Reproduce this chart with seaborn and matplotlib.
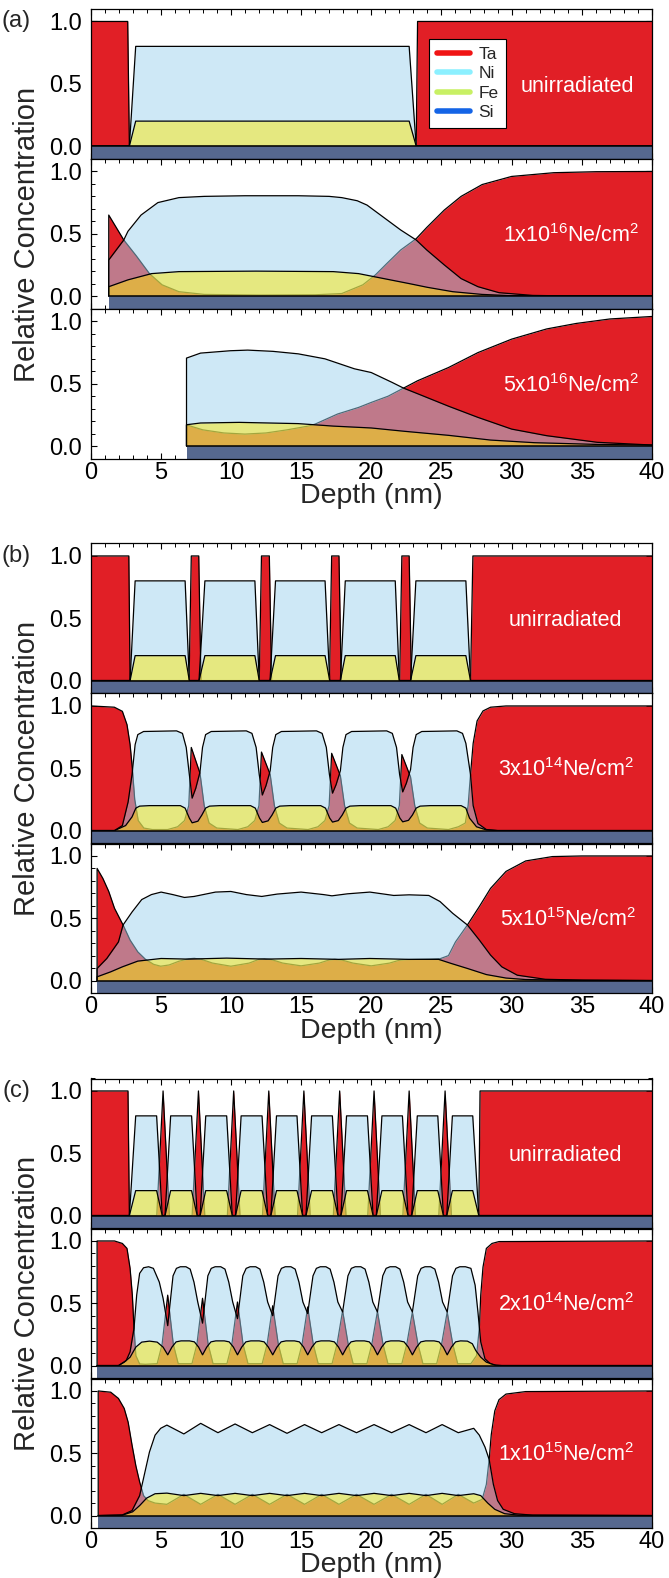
import matplotlib
matplotlib.use('Agg')
import matplotlib.pyplot as plt
from matplotlib.lines import Line2D
from matplotlib.ticker import MultipleLocator, FormatStrFormatter
import seaborn as sns

sns.set_theme(style='ticks')
plt.rcParams['font.family'] = ['Liberation Sans', 'DejaVu Sans']
plt.rcParams['mathtext.fontset'] = 'custom'
plt.rcParams['mathtext.rm'] = 'Liberation Sans'
plt.rcParams['mathtext.it'] = 'Liberation Sans:italic'
plt.rcParams['mathtext.bf'] = 'Liberation Sans:bold'

# ---------------- data ----------------
# (a) unirradiated
a1_ta_x = [0.0, 2.65, 2.77, 23.2, 23.3, 40.0]
a1_ta_y = [1.0, 1.0, 0.0, 0.0, 1.0, 1.0]
a1_ni_x = [0.0, 2.77, 3.22, 22.7, 23.2, 40.0]
a1_ni_y = [0.0, 0.0, 0.8, 0.8, 0.0, 0.0]
a1_fe_y = [0.0, 0.0, 0.2, 0.2, 0.0, 0.0]

# (a) 1e16
a2_ta_x = [1.3, 2.37, 3.28, 4.2, 5.1, 6.3, 8.1, 12.0, 16.0, 17.9, 19.4, 20.3, 21.1, 22.1, 23.2,
           23.95, 25.2, 26.4, 27.9, 30.0, 33.0, 36.0, 40.0]
a2_ta_y = [0.65, 0.45, 0.32, 0.18, 0.09, 0.035, 0.013, 0.008, 0.01, 0.02, 0.09, 0.17, 0.26, 0.37, 0.46,
           0.55, 0.69, 0.8, 0.895, 0.96, 0.99, 0.998, 1.0]
a2_ni_x = [1.3, 2.37, 2.67, 3.6, 4.8, 6.3, 8.1, 11.0, 14.8, 17.0, 17.9, 19.0, 19.7, 20.9, 22.1, 23.2,
           23.95, 25.2, 26.4, 27.6, 29.1, 31.5, 34.0, 40.0]
a2_ni_y = [0.29, 0.45, 0.52, 0.65, 0.75, 0.79, 0.80, 0.805, 0.805, 0.80, 0.79, 0.765, 0.73, 0.63, 0.53, 0.45,
           0.37, 0.25, 0.14, 0.075, 0.027, 0.005, 0.001, 0.0]
a2_fe_x = [1.3, 2.67, 4.35, 6.3, 11.8, 17.3, 19.1, 20.9, 22.7, 24.0, 25.8, 27.9, 30.0, 40.0]
a2_fe_y = [0.075, 0.13, 0.18, 0.196, 0.2, 0.196, 0.18, 0.14, 0.1, 0.07, 0.035, 0.013, 0.003, 0.0]

# (a) 5e16
a3_ta_x = [6.84, 8.0, 9.5, 11.0, 12.5, 14.0, 15.5, 16.0, 17.6, 19.1, 20.0, 21.2, 22.3, 23.3, 25.5,
           27.6, 30.0, 32.5, 34.6, 37.0, 40.0]
a3_ta_y = [0.17, 0.13, 0.105, 0.096, 0.105, 0.13, 0.16, 0.176, 0.257, 0.31, 0.35, 0.40, 0.465, 0.524, 0.63,
           0.75, 0.858, 0.94, 0.984, 1.02, 1.04]
a3_ni_x = [6.84, 7.84, 9.97, 11.2, 13.0, 14.8, 16.7, 18.8, 20.0, 21.5, 22.3, 23.3, 25.5, 27.6, 30.0,
           32.5, 36.1, 40.0]
a3_ni_y = [0.706, 0.746, 0.765, 0.77, 0.76, 0.74, 0.70, 0.62, 0.59, 0.51, 0.465, 0.42, 0.32, 0.23, 0.136,
           0.083, 0.03, 0.008]
a3_fe_x = [6.84, 7.84, 10.6, 14.8, 17.3, 20.0, 22.4, 25.5, 28.5, 31.6, 36.1, 40.0]
a3_fe_y = [0.171, 0.185, 0.19, 0.18, 0.16, 0.145, 0.118, 0.086, 0.048, 0.027, 0.013, 0.008]

# (b) unirradiated
b1_ta_x = [0.0, 2.73, 2.82, 7.02, 7.18, 7.71, 7.87, 12.02, 12.18, 12.74, 12.9, 17.02, 17.18, 17.7,
           17.86, 22.02, 22.18, 22.7, 22.86, 27.07, 27.24, 40.0]
b1_ta_y = [1.0, 1.0, 0.0, 0.0, 1.0, 1.0, 0.0, 0.0, 1.0, 1.0, 0.0, 0.0, 1.0, 1.0,
           0.0, 0.0, 1.0, 1.0, 0.0, 0.0, 1.0, 1.0]
b1_ni_x = [0.0, 2.82, 3.18, 6.74, 7.04, 7.73, 8.15, 11.71, 12.02, 12.79, 13.18, 16.71, 17.04, 17.8,
           18.15, 21.71, 22.0, 22.8, 23.18, 26.74, 27.07, 40.0]
b1_ni_y = [0.0, 0.0, 0.8, 0.8, 0.0, 0.0, 0.8, 0.8, 0.0, 0.0, 0.8, 0.8, 0.0, 0.0,
           0.8, 0.8, 0.0, 0.0, 0.8, 0.8, 0.0, 0.0]
b1_fe_y = [0.0, 0.0, 0.2, 0.2, 0.0, 0.0, 0.2, 0.2, 0.0, 0.0, 0.2, 0.2, 0.0, 0.0,
           0.2, 0.2, 0.0, 0.0, 0.2, 0.2, 0.0, 0.0]

# (b) 3e14
b2_ta_x = [0.05, 1.7, 2.27, 2.6, 2.82, 2.98, 3.15, 3.4, 3.8, 4.4,
           5.5, 6.2, 6.7, 7.0, 7.18, 7.8, 8.1, 8.45, 9.0,
           10.5, 11.2, 11.7, 12.0, 12.18, 12.8, 13.1, 13.45, 14.0,
           15.5, 16.2, 16.7, 17.0, 17.18, 17.8, 18.1, 18.45, 19.0,
           20.5, 21.2, 21.7, 22.0, 22.18, 22.8, 23.1, 23.45, 24.0,
           25.5, 26.2, 26.7, 26.9, 27.07, 27.26, 27.54, 27.96, 28.5, 29.6, 40.0]
b2_ta_y = [1.0, 0.99, 0.957, 0.85, 0.69, 0.5, 0.25, 0.08, 0.02, 0.008,
           0.008, 0.03, 0.08, 0.2, 0.667, 0.46, 0.2, 0.06, 0.02,
           0.008, 0.03, 0.08, 0.2, 0.63, 0.45, 0.2, 0.06, 0.02,
           0.008, 0.03, 0.08, 0.2, 0.62, 0.44, 0.2, 0.06, 0.02,
           0.008, 0.03, 0.08, 0.2, 0.61, 0.43, 0.2, 0.06, 0.02,
           0.008, 0.03, 0.06, 0.2, 0.45, 0.7, 0.88, 0.96, 0.99, 1.0, 1.0]
b2_ni_x = [0.05, 1.71, 2.27, 2.68, 2.96, 3.18, 3.37, 3.78, 6.13, 6.55, 6.82, 7.04, 7.24,
           7.5, 7.8, 7.98, 8.2, 8.6, 11.1, 11.5, 11.8, 12.02, 12.24,
           12.5, 12.8, 12.98, 13.2, 13.6, 16.1, 16.5, 16.8, 17.02, 17.24,
           17.5, 17.8, 17.98, 18.2, 18.6, 21.1, 21.5, 21.8, 22.02, 22.24,
           22.5, 22.8, 22.98, 23.2, 23.6, 26.1, 26.5, 26.74, 27.07, 27.26, 27.6, 28.2, 29.0, 40.0]
b2_ni_y = [0.0, 0.0, 0.04, 0.23, 0.45, 0.69, 0.77, 0.795, 0.8, 0.78, 0.667, 0.45, 0.26,
           0.34, 0.47, 0.667, 0.77, 0.795, 0.8, 0.78, 0.667, 0.45, 0.285,
           0.36, 0.48, 0.667, 0.77, 0.795, 0.8, 0.78, 0.667, 0.45, 0.30,
           0.37, 0.48, 0.667, 0.77, 0.795, 0.8, 0.78, 0.667, 0.45, 0.31,
           0.38, 0.49, 0.667, 0.77, 0.795, 0.8, 0.78, 0.7, 0.45, 0.2, 0.056, 0.008, 0.0, 0.0]
b2_fe_x = [0.05, 1.71, 2.5, 2.96, 3.23, 3.5, 4.2, 6.4, 6.74, 7.04, 7.24,
           7.65, 7.93, 8.2, 8.48, 9.2, 11.4, 11.74, 12.04, 12.24,
           12.65, 12.93, 13.2, 13.48, 14.2, 16.4, 16.74, 17.04, 17.24,
           17.65, 17.93, 18.2, 18.48, 19.2, 21.4, 21.74, 22.04, 22.24,
           22.65, 22.93, 23.2, 23.48, 24.2, 26.4, 26.74, 27.0, 27.5, 28.2, 29.0, 40.0]
b2_fe_y = [0.0, 0.0, 0.04, 0.11, 0.18, 0.196, 0.2, 0.2, 0.18, 0.1, 0.062,
           0.075, 0.124, 0.18, 0.196, 0.2, 0.2, 0.18, 0.1, 0.065,
           0.078, 0.124, 0.18, 0.196, 0.2, 0.2, 0.18, 0.1, 0.068,
           0.08, 0.124, 0.18, 0.196, 0.2, 0.2, 0.18, 0.1, 0.07,
           0.082, 0.124, 0.18, 0.196, 0.2, 0.2, 0.18, 0.1, 0.03, 0.005, 0.0, 0.0]

# (b) 5e15
b3_ta_x = [0.47, 0.88, 1.3, 1.71, 2.32, 2.82, 3.37, 3.92, 4.5, 5.0, 5.6, 6.3, 7.0, 7.4, 7.9, 8.7,
           10.0, 11.3, 12.0, 12.4, 12.9, 13.7, 15.0, 16.3, 17.0, 17.4, 17.9, 18.7, 20.0, 21.3,
           22.0, 22.4, 23.2, 24.2, 24.9, 25.5, 26.0, 26.85, 27.7, 28.5, 29.6, 31.0, 32.9, 35.0, 40.0]
b3_ta_y = [0.9, 0.82, 0.715, 0.58, 0.446, 0.325, 0.23, 0.17, 0.13, 0.115, 0.125, 0.155, 0.175, 0.178, 0.17, 0.14,
           0.115, 0.14, 0.17, 0.175, 0.168, 0.14, 0.118, 0.14, 0.165, 0.17, 0.165, 0.14, 0.118, 0.14,
           0.163, 0.168, 0.17, 0.172, 0.175, 0.2, 0.31, 0.446, 0.594, 0.74, 0.876, 0.96, 0.995, 1.0, 1.0]
b3_ni_x = [0.47, 1.16, 1.99, 2.32, 2.96, 3.65, 4.34, 5.03, 5.86, 6.69, 7.38, 8.9, 10.0, 11.1, 12.2,
           13.3, 15.0, 16.6, 17.2, 18.3, 19.9, 21.6, 22.7, 24.1, 24.9, 25.8, 26.85, 27.7, 28.5,
           29.3, 30.4, 32.4, 35.1, 40.0]
b3_ni_y = [0.097, 0.177, 0.31, 0.446, 0.55, 0.65, 0.69, 0.71, 0.69, 0.667, 0.675, 0.71, 0.715, 0.69, 0.675,
           0.694, 0.71, 0.69, 0.68, 0.696, 0.71, 0.683, 0.688, 0.683, 0.634, 0.54, 0.446, 0.325, 0.204,
           0.11, 0.043, 0.01, 0.003, 0.0]
b3_fe_x = [0.47, 1.44, 2.27, 3.37, 5.03, 6.96, 9.7, 12.5, 15.0, 17.7, 19.9, 22.7, 24.8, 25.7, 26.85,
           28.2, 29.6, 31.0, 33.8, 40.0]
b3_fe_y = [0.03, 0.07, 0.11, 0.156, 0.177, 0.172, 0.18, 0.172, 0.177, 0.17, 0.177, 0.17, 0.17, 0.137, 0.097,
           0.048, 0.02, 0.008, 0.003, 0.0]

# (c) unirradiated
c1_ta_x = [0.0, 2.67, 2.77, 4.72, 5.17, 5.62, 7.24, 7.69, 8.14, 9.75, 10.2, 10.65, 12.25, 12.7, 13.15,
           14.75, 15.2, 15.65, 17.3, 17.75, 18.2, 19.75, 20.2, 20.65, 22.25, 22.7, 23.15,
           24.81, 25.26, 25.71, 27.66, 27.75, 40.0]
c1_ta_y = [1.0, 1.0, 0.0, 0.0, 1.0, 0.0, 0.0, 1.0, 0.0, 0.0, 1.0, 0.0, 0.0, 1.0, 0.0,
           0.0, 1.0, 0.0, 0.0, 1.0, 0.0, 0.0, 1.0, 0.0, 0.0, 1.0, 0.0,
           0.0, 1.0, 0.0, 0.0, 1.0, 1.0]
c1_ni_x = [0.0, 2.77, 3.22, 4.71, 5.11, 5.31, 5.71, 7.2, 7.6, 7.81, 8.21, 9.7, 10.1, 10.33, 10.73,
           12.22, 12.62, 12.85, 13.25, 14.71, 15.11, 15.35, 15.75, 17.23, 17.63, 17.84, 18.24,
           19.73, 20.13, 20.36, 20.76, 22.22, 22.62, 22.88, 23.28, 24.74, 25.14, 25.38, 25.78,
           27.23, 27.66, 40.0]
c1_ni_y = [0.0, 0.0, 0.8, 0.8, 0.0, 0.0, 0.8, 0.8, 0.0, 0.0, 0.8, 0.8, 0.0, 0.0, 0.8,
           0.8, 0.0, 0.0, 0.8, 0.8, 0.0, 0.0, 0.8, 0.8, 0.0, 0.0, 0.8,
           0.8, 0.0, 0.0, 0.8, 0.8, 0.0, 0.0, 0.8, 0.8, 0.0, 0.0, 0.8,
           0.8, 0.0, 0.0]
c1_fe_y = [0.0, 0.0, 0.2, 0.2, 0.0, 0.0, 0.2, 0.2, 0.0, 0.0, 0.2, 0.2, 0.0, 0.0, 0.2,
           0.2, 0.0, 0.0, 0.2, 0.2, 0.0, 0.0, 0.2, 0.2, 0.0, 0.0, 0.2,
           0.2, 0.0, 0.0, 0.2, 0.2, 0.0, 0.0, 0.2, 0.2, 0.0, 0.0, 0.2,
           0.2, 0.0, 0.0]

# (c) 2e14
c2_ta_x = [0.47, 1.71, 2.27, 2.6, 2.82, 2.98, 3.1, 3.23, 3.5, 3.9,
           4.75, 5.1, 5.5, 5.9, 6.25,
           7.23, 7.58, 7.98, 8.38, 8.73,
           9.72, 10.07, 10.47, 10.87, 11.22,
           12.23, 12.58, 12.98, 13.38, 13.73,
           14.72, 15.07, 15.47, 15.87, 16.22,
           17.21, 17.56, 17.96, 18.36, 18.71,
           19.69, 20.04, 20.44, 20.84, 21.19,
           22.18, 22.53, 22.93, 23.33, 23.68,
           24.66, 25.01, 25.41, 25.81, 26.16,
           27.1, 27.5, 27.7, 27.8, 27.96, 28.2, 28.6, 29.1, 40.0]
c2_ta_y = [1.0, 1.0, 0.98, 0.94, 0.78, 0.565, 0.3, 0.08, 0.013, 0.01,
           0.015, 0.17, 0.565, 0.17, 0.015,
           0.015, 0.17, 0.54, 0.17, 0.015,
           0.015, 0.17, 0.51, 0.17, 0.015,
           0.015, 0.17, 0.48, 0.17, 0.015,
           0.015, 0.17, 0.47, 0.17, 0.015,
           0.015, 0.17, 0.44, 0.17, 0.015,
           0.015, 0.17, 0.435, 0.17, 0.015,
           0.015, 0.17, 0.43, 0.17, 0.015,
           0.015, 0.17, 0.43, 0.17, 0.015,
           0.015, 0.08, 0.3, 0.565, 0.79, 0.94, 0.98, 0.995, 1.0]
c2_ni_x = [0.47, 2.0, 2.54, 2.82, 3.1, 3.29, 3.5, 3.78, 4.14, 4.48, 4.9, 5.17, 5.5,
           5.88, 6.12, 6.4, 6.8, 7.1, 7.37, 7.64, 7.98,
           8.36, 8.6, 8.88, 9.28, 9.58, 9.85, 10.13, 10.47,
           10.85, 11.09, 11.37, 11.77, 12.07, 12.34, 12.62, 12.98,
           13.36, 13.6, 13.88, 14.28, 14.58, 14.85, 15.13, 15.47,
           15.85, 16.09, 16.37, 16.77, 17.07, 17.34, 17.62, 17.96,
           18.34, 18.58, 18.86, 19.26, 19.56, 19.83, 20.11, 20.44,
           20.82, 21.06, 21.34, 21.74, 22.04, 22.31, 22.59, 22.93,
           23.31, 23.55, 23.83, 24.23, 24.53, 24.8, 25.08, 25.41,
           25.79, 26.03, 26.31, 26.71, 27.1, 27.4, 27.6, 27.8, 28.1, 28.5, 28.9, 40.0]
c2_ni_y = [0.0, 0.0, 0.04, 0.11, 0.3, 0.565, 0.74, 0.785, 0.793, 0.78, 0.67, 0.54, 0.32,
           0.72, 0.78, 0.793, 0.793, 0.774, 0.67, 0.51, 0.34,
           0.72, 0.78, 0.793, 0.793, 0.774, 0.67, 0.51, 0.376,
           0.72, 0.78, 0.793, 0.793, 0.774, 0.67, 0.51, 0.40,
           0.72, 0.78, 0.793, 0.793, 0.774, 0.67, 0.51, 0.417,
           0.72, 0.78, 0.793, 0.793, 0.774, 0.67, 0.51, 0.43,
           0.72, 0.78, 0.793, 0.793, 0.774, 0.67, 0.51, 0.43,
           0.72, 0.78, 0.793, 0.793, 0.774, 0.67, 0.51, 0.43,
           0.72, 0.78, 0.793, 0.793, 0.774, 0.67, 0.51, 0.43,
           0.72, 0.78, 0.793, 0.793, 0.78, 0.645, 0.43, 0.19, 0.054, 0.013, 0.0, 0.0]
c2_fe_x = [0.47, 2.0, 2.4, 2.82, 3.23, 3.65, 4.2, 4.75, 5.17, 5.5,
           5.8, 6.1, 6.45, 7.05, 7.4, 7.7, 7.98,
           8.28, 8.58, 8.93, 9.53, 9.88, 10.18, 10.47,
           10.77, 11.07, 11.42, 12.02, 12.37, 12.67, 12.98,
           13.28, 13.58, 13.93, 14.53, 14.88, 15.18, 15.47,
           15.77, 16.07, 16.42, 17.02, 17.37, 17.67, 17.96,
           18.26, 18.56, 18.91, 19.51, 19.86, 20.16, 20.44,
           20.74, 21.04, 21.39, 21.99, 22.34, 22.64, 22.93,
           23.23, 23.53, 23.88, 24.48, 24.83, 25.13, 25.41,
           25.71, 26.01, 26.36, 26.85, 27.2, 27.45, 27.8, 28.2, 28.8, 29.3, 40.0]
c2_fe_y = [0.0, 0.0, 0.027, 0.067, 0.148, 0.188, 0.196, 0.188, 0.148, 0.086,
           0.148, 0.19, 0.198, 0.198, 0.19, 0.148, 0.086,
           0.148, 0.19, 0.198, 0.198, 0.19, 0.148, 0.086,
           0.148, 0.19, 0.198, 0.198, 0.19, 0.148, 0.086,
           0.148, 0.19, 0.198, 0.198, 0.19, 0.148, 0.086,
           0.148, 0.19, 0.198, 0.198, 0.19, 0.148, 0.086,
           0.148, 0.19, 0.198, 0.198, 0.19, 0.148, 0.086,
           0.148, 0.19, 0.198, 0.198, 0.19, 0.148, 0.086,
           0.148, 0.19, 0.198, 0.198, 0.19, 0.148, 0.086,
           0.148, 0.19, 0.198, 0.196, 0.175, 0.12, 0.067, 0.027, 0.005, 0.0, 0.0]

# (c) 1e15
c3_ta_x = [0.55, 1.44, 1.99, 2.4, 2.68, 2.96, 3.23, 3.5, 3.78, 4.1, 4.6, 5.44, 6.65, 7.85, 9.08,
           10.3, 11.53, 12.76, 14.0, 15.25, 16.47, 17.7, 18.95, 20.2, 21.45, 22.7, 23.9, 25.05,
           26.2, 27.3, 27.9, 28.2, 28.4, 28.55, 28.8, 29.1, 29.6, 31.0, 40.0]
c3_ta_y = [1.0, 0.99, 0.94, 0.86, 0.75, 0.565, 0.40, 0.27, 0.16, 0.12, 0.1, 0.09, 0.17, 0.09, 0.17,
           0.09, 0.17, 0.09, 0.17, 0.09, 0.17, 0.09, 0.17, 0.09, 0.17, 0.09, 0.17, 0.09,
           0.17, 0.1, 0.13, 0.25, 0.45, 0.65, 0.84, 0.93, 0.975, 0.995, 1.0]
c3_ni_x = [0.55, 2.27, 2.96, 3.5, 3.78, 4.2, 4.6, 5.0, 5.44, 6.65, 7.85, 9.08, 10.3, 11.53, 12.76,
           14.0, 15.25, 16.47, 17.7, 18.95, 20.2, 21.45, 22.7, 23.9, 25.05, 26.2, 27.3, 27.7,
           28.1, 28.4, 28.7, 29.0, 29.4, 30.2, 31.5, 40.0]
c3_ni_y = [0.0, 0.005, 0.04, 0.16, 0.3, 0.51, 0.645, 0.7, 0.726, 0.655, 0.74, 0.665, 0.735, 0.665, 0.73,
           0.66, 0.73, 0.665, 0.73, 0.665, 0.73, 0.665, 0.73, 0.665, 0.73, 0.665, 0.70, 0.645,
           0.55, 0.45, 0.25, 0.12, 0.05, 0.015, 0.003, 0.0]
c3_fe_x = [0.55, 2.27, 3.0, 3.5, 4.0, 4.6, 5.44, 6.65, 7.85, 9.08, 10.3, 11.53, 12.76, 14.0, 15.25,
           16.47, 17.7, 18.95, 20.2, 21.45, 22.7, 23.9, 25.05, 26.2, 27.3, 27.8, 28.3, 28.8,
           29.5, 30.5, 40.0]
c3_fe_y = [0.0, 0.003, 0.03, 0.08, 0.14, 0.175, 0.18, 0.16, 0.178, 0.16, 0.178, 0.16, 0.178, 0.16, 0.178,
           0.16, 0.178, 0.16, 0.178, 0.16, 0.178, 0.16, 0.178, 0.16, 0.175, 0.16, 0.1, 0.05,
           0.015, 0.003, 0.0]

group_letters = ['(a)', '(b)', '(c)']
panel_labels = ['unirradiated', r'1x10$^{16}$Ne/cm$^{2}$', r'5x10$^{16}$Ne/cm$^{2}$',
                'unirradiated', r'3x10$^{14}$Ne/cm$^{2}$', r'5x10$^{15}$Ne/cm$^{2}$',
                'unirradiated', r'2x10$^{14}$Ne/cm$^{2}$', r'1x10$^{15}$Ne/cm$^{2}$']
label_right_x = [38.7, 39.1, 39.05, 37.85, 38.7, 38.9, 37.9, 38.7, 38.7]
legend_labels = ['Ta', 'Ni', 'Fe', 'Si']
x_ticks = [0, 5, 10, 15, 20, 25, 30, 35, 40]

panels = [
    (0.0, (a1_ta_x, a1_ta_y), (a1_ni_x, a1_ni_y), (a1_ni_x, a1_fe_y)),
    (1.3, (a2_ta_x, a2_ta_y), (a2_ni_x, a2_ni_y), (a2_fe_x, a2_fe_y)),
    (6.84, (a3_ta_x, a3_ta_y), (a3_ni_x, a3_ni_y), (a3_fe_x, a3_fe_y)),
    (0.0, (b1_ta_x, b1_ta_y), (b1_ni_x, b1_ni_y), (b1_ni_x, b1_fe_y)),
    (0.05, (b2_ta_x, b2_ta_y), (b2_ni_x, b2_ni_y), (b2_fe_x, b2_fe_y)),
    (0.47, (b3_ta_x, b3_ta_y), (b3_ni_x, b3_ni_y), (b3_fe_x, b3_fe_y)),
    (0.0, (c1_ta_x, c1_ta_y), (c1_ni_x, c1_ni_y), (c1_ni_x, c1_fe_y)),
    (0.47, (c2_ta_x, c2_ta_y), (c2_ni_x, c2_ni_y), (c2_fe_x, c2_fe_y)),
    (0.55, (c3_ta_x, c3_ta_y), (c3_ni_x, c3_ni_y), (c3_fe_x, c3_fe_y)),
]

# ---------------- styling ----------------
TA_C = '#E11F26'
NI_C = '#9FD3EF'
FE_C = '#FFE900'
SI_C = '#56688F'
LEG_C = ['#F01414', '#8CF0FF', '#C8F064', '#1464E6']

W, H = 669, 1578
fig = plt.figure(figsize=(W / 100, H / 100), dpi=100)
LEFT, AW, AH = 90.5, 561.5, 149.5
group_tops = [9.0, 543.5, 1078.5]

TICK_FS = 17
for g in range(3):
    T = group_tops[g]
    for i in range(3):
        k = 3 * g + i
        x0, ta, ni, fe = panels[k]
        top = T + 150 * i
        ax = fig.add_axes([LEFT / W, 1 - (top + AH) / H, AW / W, AH / H])
        ax.set_facecolor('white')
        for (xs, ys), col, al, z in [(ta, TA_C, 1.0, 1), (ni, NI_C, 0.5, 2), (fe, FE_C, 0.48, 3)]:
            ax.fill_between(xs, 0, ys, color=col, alpha=al, lw=0, zorder=z)
            sns.lineplot(x=[x0] + list(xs), y=[0.0] + list(ys), sort=False, estimator=None,
                         color='black', lw=0.9, ax=ax, zorder=z + 0.5)
        ax.fill_between([x0, 40.0], -0.1, 0.0, color=SI_C, lw=0, zorder=4)
        ax.plot([x0, 40.0], [0.0, 0.0], color='black', lw=1.1, zorder=4.5)
        ax.set_xlim(0, 40)
        ax.set_ylim(-0.1, 1.1)
        ax.set_xlabel('')
        ax.set_ylabel('')
        ax.xaxis.set_major_locator(MultipleLocator(5))
        ax.xaxis.set_minor_locator(MultipleLocator(1))
        ax.yaxis.set_major_locator(MultipleLocator(0.5))
        ax.yaxis.set_minor_locator(MultipleLocator(0.1))
        ax.yaxis.set_major_formatter(FormatStrFormatter('%.1f'))
        ax.tick_params(which='both', direction='in', top=True, right=True, colors='black',
                       labelsize=TICK_FS)
        ax.tick_params(which='major', length=4.5, width=0.8)
        ax.tick_params(which='minor', length=2.6, width=0.7)
        ax.tick_params(axis='y', pad=6)
        ax.tick_params(axis='x', pad=2.5)
        if i < 2:
            ax.tick_params(labelbottom=False)
        else:
            ax.set_xticks(x_ticks)
        for sp in ax.spines.values():
            sp.set_linewidth(0.9)
            sp.set_color('black')
            sp.set_zorder(8)
        ax.text(label_right_x[k], 0.435, panel_labels[k], color='white', fontsize=15.5,
                ha='right', va='baseline', zorder=9)
        if k == 0:
            handles = [Line2D([], [], color=c, lw=4) for c in LEG_C]
            leg = ax.legend(handles, legend_labels, loc='upper left',
                            bbox_to_anchor=((429 - LEFT) / AW, 1 - (39 - top) / AH),
                            frameon=True, fancybox=False, edgecolor='black', facecolor='white',
                            framealpha=1, fontsize=12.5, handlelength=1.9, handletextpad=0.5,
                            labelspacing=0.25, borderpad=0.45, borderaxespad=0)
            leg.get_frame().set_linewidth(0.8)
            leg.set_zorder(20)
    fig.text(16 / W, 1 - (T + 12.5) / H, group_letters[g], fontsize=TICK_FS, ha='center', va='center')
    fig.text(27 / W, 1 - (T + 225) / H, 'Relative Concentration', fontsize=21, rotation=90,
             ha='center', va='center')
    fig.text((LEFT + AW / 2) / W, 1 - (T + 487) / H, 'Depth (nm)', fontsize=20.5,
             ha='center', va='center')

fig.savefig('out.png', dpi=100)
